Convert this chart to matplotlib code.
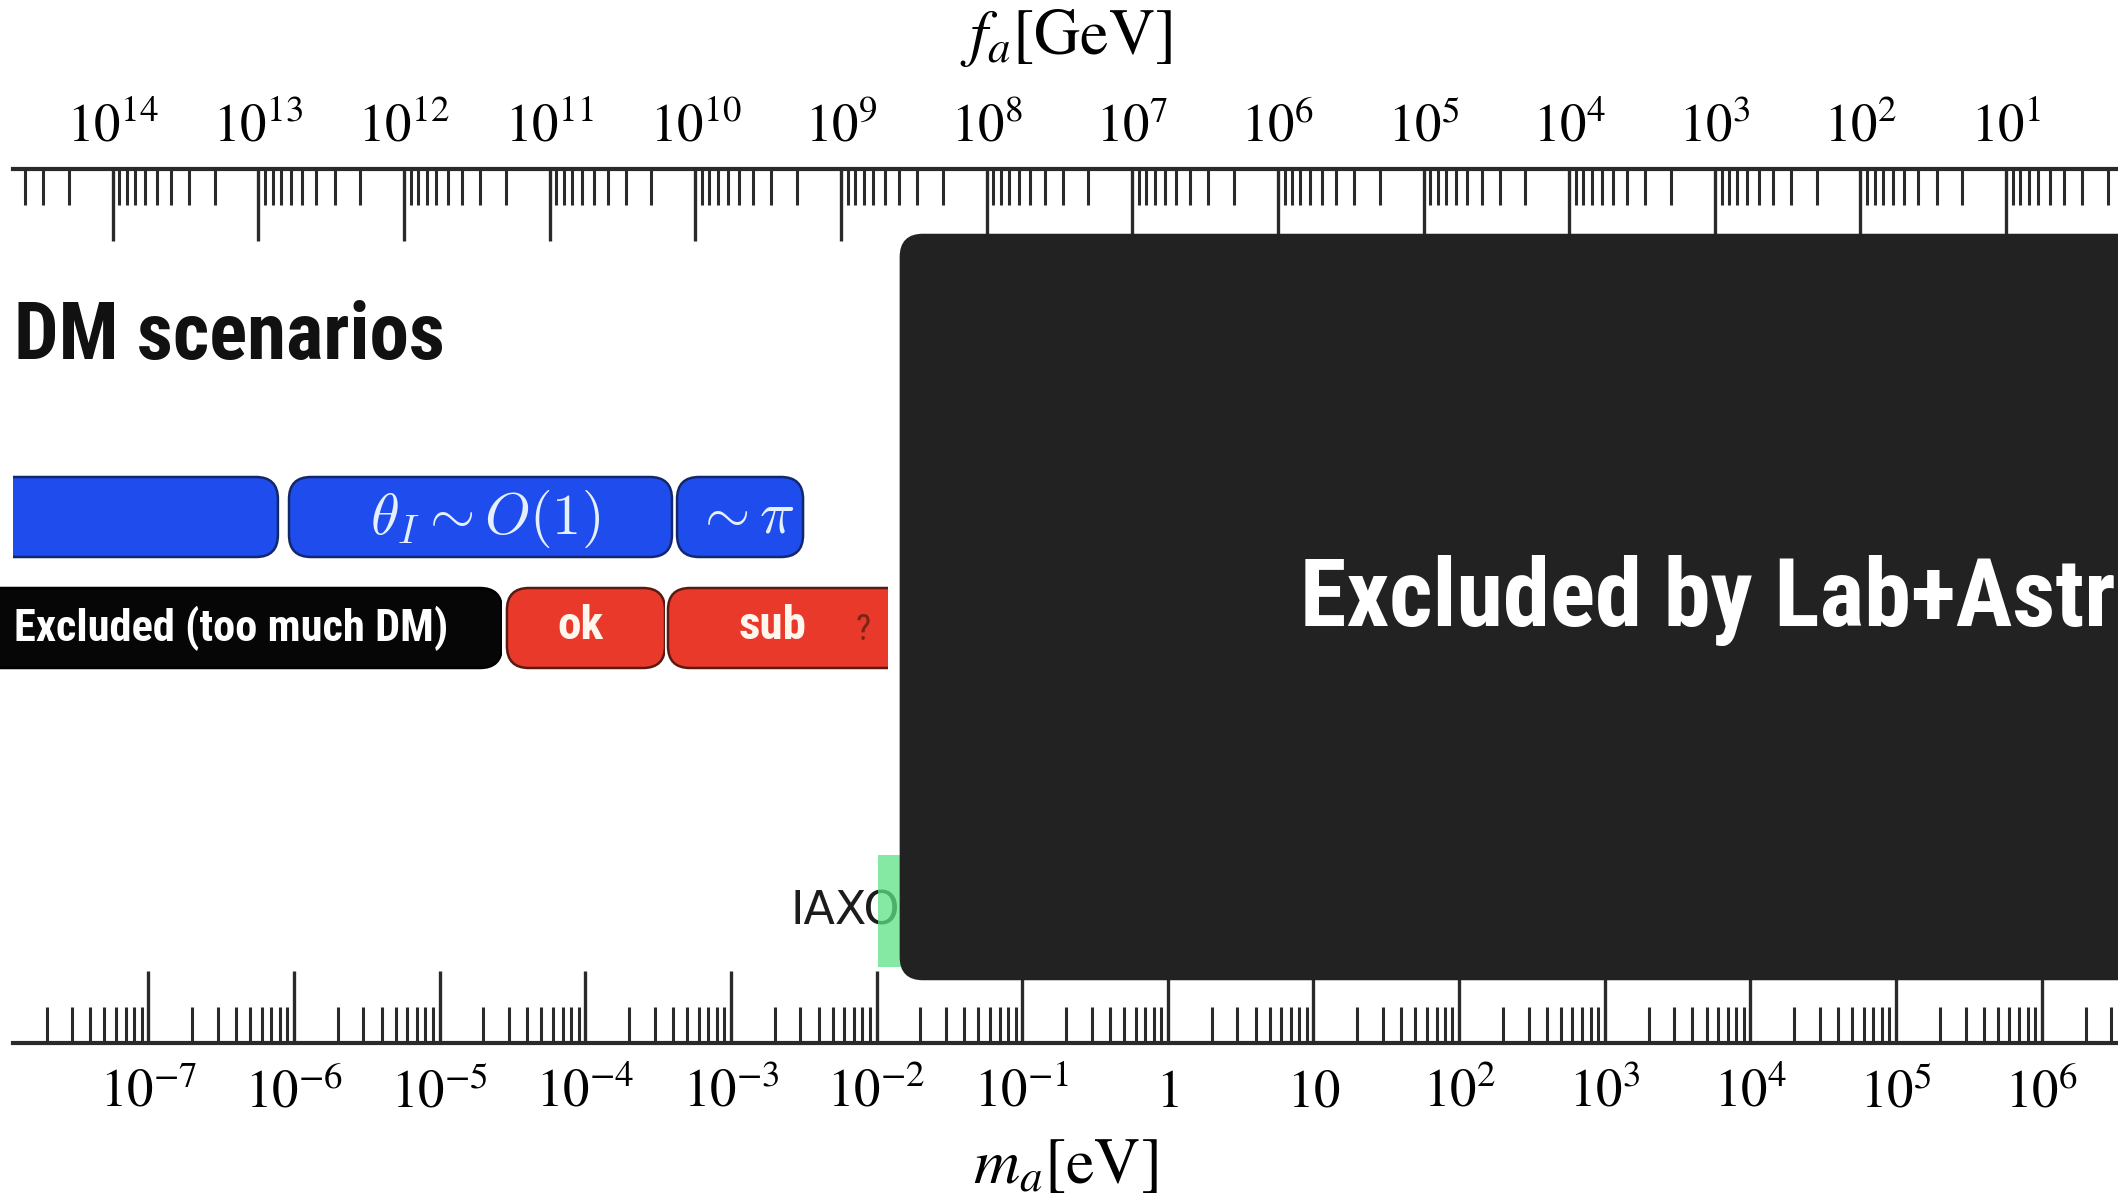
import numpy as np
import matplotlib
matplotlib.use("Agg")
import matplotlib.pyplot as plt
from matplotlib.patches import FancyBboxPatch, Rectangle

plt.rcParams['mathtext.fontset'] = 'stix'
plt.rcParams['font.family'] = ['STIXGeneral', 'DejaVu Serif']
COND = ['Liberation Sans Narrow', 'Roboto Condensed', 'DejaVu Sans']

# axion mass ranges in eV
theta_edges = [(1e-9, 7.76e-7), (9.25e-7, 3.94e-4), (4.27e-4, 3.13e-3)]
theta_labels = ['', r'$\theta_I \sim O(1)$', r'$\sim \pi$']
fate_edges = [(1e-9, 2.68e-5), (2.9e-5, 3.53e-4), (3.7e-4, 1.0e-1)]
fate_labels = ['Excluded (too much DM)', 'ok', 'sub']
fate_colors = ['#060606', '#e8392b', '#e8392b']
fate_cut = 1.2e-2
iaxo_range = (1.02e-2, 1.0)
lab_astro_from = 1.47e-2

bottom_ticks = list(range(-7, 7))
top_ticks = list(range(1, 15))

LOGK = np.log10(5.7e6)   # f_a[GeV] = 5.7e6 / m_a[eV]
XMIN, XMAX = -7.929, 6.524
PX = 145.65              # pixels per decade

fig = plt.figure(figsize=(21.18, 12.01), dpi=100)
ax = fig.add_axes([13/2118, 158/1201, 1 - 13/2118, 874/1201])
top = ax.twiny()
ax.set_zorder(2)
top.set_zorder(1)
ax.patch.set_visible(False)

ax.set_xlim(XMIN, XMAX)
ax.set_ylim(1043, 169)
top.set_xlim(LOGK - XMIN, LOGK - XMAX)

def mlabel(n):
    if n == 0:
        return '$1$'
    if n == 1:
        return '$10$'
    return '$10^{%d}$' % n

ax.set_xticks(bottom_ticks)
ax.set_xticklabels([mlabel(n) for n in bottom_ticks])
ax.set_xticks([n + np.log10(k) for n in range(-8, 7) for k in range(2, 10)
               if XMIN < n + np.log10(k) < XMAX], minor=True)
top.set_xticks(top_ticks)
top.set_xticklabels(['$10^{%d}$' % n for n in top_ticks])
tlo, thi = LOGK - XMAX, LOGK - XMIN
top.set_xticks([n + np.log10(k) for n in range(0, 15) for k in range(2, 10)
                if tlo < n + np.log10(k) < thi], minor=True)

for a, side, pad in ((ax, 'bottom', 19), (top, 'top', 11)):
    for s in a.spines:
        a.spines[s].set_visible(s == side)
    a.spines[side].set_linewidth(3.0)
    a.spines[side].set_color('#2a2a2a')
    a.set_yticks([])
    a.tick_params(axis='x', which='major', direction='in', length=52, width=2.4,
                  color='#2a2a2a', labelsize=38, pad=pad)
    a.tick_params(axis='x', which='minor', direction='in', length=26, width=2.2,
                  color='#2a2a2a')

ax.set_xlabel(r'$m_a[\mathrm{eV}]$', fontsize=46, labelpad=14)
top.set_xlabel(r'$f_a[\mathrm{GeV}]$', fontsize=46, labelpad=36)


def box(lo, hi, y0, y1, fc, ec, r, z=3, lw=1.8, alpha=1.0):
    x0, x1 = np.log10(lo), np.log10(hi)
    p = FancyBboxPatch((x0, y0), x1 - x0, y1 - y0,
                       boxstyle="round,pad=0,rounding_size=%f" % (r / PX),
                       mutation_aspect=PX, fc=fc, ec=ec, lw=lw, zorder=z, alpha=alpha)
    ax.add_patch(p)
    return p

ax.text(XMIN + 0.005, 338, 'DM scenarios', family=COND, weight='bold',
        fontsize=57, ha='left', va='center', color='#111111')

# initial misalignment angle row
for (lo, hi), lab in zip(theta_edges, theta_labels):
    box(lo, hi, 477, 557, '#1f4cec', '#13286c', 22)
    if lab:
        ax.text((np.log10(lo) + np.log10(hi)) / 2 + 0.03, 519, lab, fontsize=42,
                math_fontfamily='cm', color='#e4f0ff', ha='center', va='center', zorder=4)

# relic abundance row
for (lo, hi), lab, c in zip(fate_edges, fate_labels, fate_colors):
    ec = '#000000' if c == '#060606' else '#5a1a12'
    p = box(lo, hi, 588, 668, c, ec, 22)
    right = min(np.log10(hi), np.log10(fate_cut))
    clip = Rectangle((XMIN - 1, 560), right - XMIN + 1, 140, transform=ax.transData)
    p.set_clip_path(clip)
    left = max(np.log10(lo), XMIN)
    if lab.startswith('Excluded'):
        ax.text(XMIN + 0.005, 628, lab, family=COND, weight='bold', fontsize=32,
                color='white', ha='left', va='center', zorder=4)
    else:
        ax.text((left + right) / 2 - 0.04, 626, lab, family=COND, weight='bold', fontsize=34,
                color='#fff6ee', ha='center', va='center', zorder=4)
ax.text(np.log10(fate_cut) - 0.17, 630, '?', family=COND, fontsize=26,
        color='#7a2418', ha='center', va='center', zorder=4)

# IAXO reach, mostly hidden below the excluded region
ax.text(np.log10(iaxo_range[0]) - 0.6, 912, 'IAXO', family=['DejaVu Sans'],
        fontsize=33, color='#1c1c1c', ha='left', va='center', zorder=3)
ax.add_patch(Rectangle((np.log10(iaxo_range[0]), 855),
                       np.log10(iaxo_range[1]) - np.log10(iaxo_range[0]), 112,
                       fc='#5ee285', ec='none', alpha=0.75, zorder=4))

# lab + astro excluded region
box(lab_astro_from, 10 ** (XMAX + 1), 235, 979, '#222222', '#222222', 22, z=6)
ax.text(np.log10(lab_astro_from) + 2.74, 601, 'Excluded by Lab+Astro', family=COND,
        weight='bold', fontsize=68, color='white', ha='left', va='center', zorder=7)

fig.savefig('out.png', dpi=100)
